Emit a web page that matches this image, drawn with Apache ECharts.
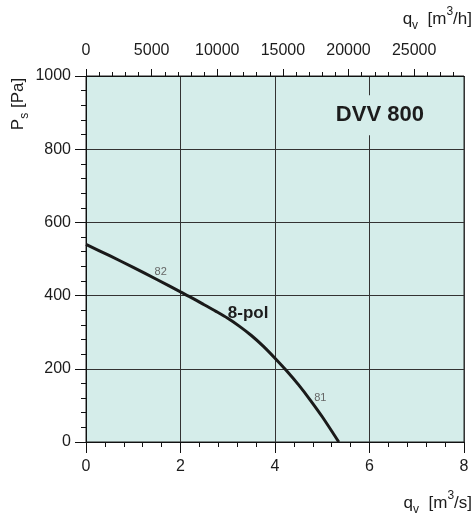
<!DOCTYPE html>
<html>
<head>
<meta charset="utf-8">
<script src="https://cdn.jsdelivr.net/npm/echarts@6/dist/echarts.min.js"></script>
<style>
html,body{margin:0;padding:0;background:#fff;}
#c{width:476px;height:519px;}
</style>
</head>
<body>
<div id="c"></div>
<script>
// ---- data ----
const qvM3s = [0, 0.5, 1, 1.5, 2, 2.25, 2.5, 2.75, 3, 3.25, 3.5, 3.75, 4, 4.25, 4.5, 4.75, 5, 5.35];
const psPa  = [540, 509, 477, 444, 410, 393, 375, 357, 338, 316, 291, 262, 229, 194, 156, 114, 69, 0];
const bottomTicks = [0, 2, 4, 6, 8];
const leftTicks = [0, 200, 400, 600, 800, 1000];
const topTickLabels = [0, 5000, 10000, 15000, 20000, 25000];
const topMinorTicks = [1000,2000,3000,4000,6000,7000,8000,9000,11000,12000,13000,14000,16000,17000,18000,19000,21000,22000,23000,24000,26000,27000,28000];
const modelName = 'DVV 800';
const curveName = '8-pol';
const curveNamePos = [3.43, 352];
const modelNamePos = [6.22, 893];
const effLabels = ['82', '81'];
const effPos = [[1.58, 464], [4.96, 119]];

const FONT = '"Liberation Sans", Arial, sans-serif';
const TXT = '#1c1c1c';
const BG = '#d5edea';
const chart = echarts.init(document.getElementById('c'));

const qvMaxH = 8 * 3600;
const plain = v => String(v);

function richName(main, sub, unit, sup, tail){
  return '{a|' + main + '}{s|' + sub + '}{a|  [' + unit + '}{p|' + sup + '}{a|' + tail + ']}';
}
const richStyles = {
  a: {fontSize: 17, fontFamily: FONT, fill: TXT, color: TXT, lineHeight: 26},
  s: {fontSize: 12, fontFamily: FONT, fill: TXT, color: TXT, lineHeight: 12, verticalAlign: 'bottom'},
  p: {fontSize: 12, fontFamily: FONT, fill: TXT, color: TXT, lineHeight: 12, verticalAlign: 'top'}
};

function annot(pos, text, extra){
  return {value: pos,
    itemStyle: {opacity: 1},
    label: Object.assign({show: true, position: 'inside', formatter: text, fontFamily: FONT, opacity: 1}, extra)};
}

chart.setOption({
  animation: false,
  grid: {left: 86, right: 12, top: 76, bottom: 77, show: true,
         backgroundColor: BG, borderColor: '#222', borderWidth: 1},
  xAxis: [
    {type: 'value', position: 'bottom', min: 0, max: 8, interval: 2,
     axisLine: {lineStyle: {color: '#111', width: 1}},
     axisTick: {show: true, inside: false, length: 11, lineStyle: {color: '#111'}},
     minorTick: {show: true, splitNumber: 5, length: 5, lineStyle: {color: '#111'}},
     splitLine: {show: true, lineStyle: {color: '#333', width: 1}},
     axisLabel: {customValues: bottomTicks, formatter: plain, margin: 17, fontSize: 16, fontFamily: FONT, color: TXT}},
    {type: 'value', position: 'top', min: 0, max: qvMaxH,
     axisLine: {show: true, lineStyle: {color: '#111'}},
     axisTick: {show: true, inside: false, length: 7, customValues: topTickLabels, lineStyle: {color: '#111'}},
     splitLine: {show: false},
     axisLabel: {customValues: topTickLabels, formatter: plain, margin: 17, fontSize: 16, fontFamily: FONT, color: TXT}},
    {type: 'value', position: 'top', min: 0, max: qvMaxH,
     axisLine: {show: false},
     axisTick: {show: true, inside: false, length: 4, customValues: topMinorTicks, lineStyle: {color: '#111'}},
     splitLine: {show: false},
     axisLabel: {show: false}}
  ],
  yAxis: {type: 'value', min: 0, max: 1000, interval: 200,
     axisLine: {show: true, lineStyle: {color: '#111'}},
     axisTick: {show: true, inside: false, length: 11, lineStyle: {color: '#111'}},
     minorTick: {show: true, splitNumber: 5, length: 5, lineStyle: {color: '#111'}},
     splitLine: {show: true, lineStyle: {color: '#333', width: 1}},
     axisLabel: {customValues: leftTicks, formatter: plain, margin: 15, fontSize: 16, fontFamily: FONT, color: TXT}},
  series: [
    {type: 'line', xAxisIndex: 0, data: qvM3s.map((x, i) => [x, psPa[i]]),
     smooth: 0.3, symbol: 'none', lineStyle: {color: '#1a1a1a', width: 3}, z: 3},
    {type: 'scatter', xAxisIndex: 0, symbolSize: 0, z: 5, silent: true,
     itemStyle: {opacity: 1},
     data: [
       annot(modelNamePos, modelName, {fontSize: 22, fontWeight: 'bold', color: TXT, lineHeight: 22,
         backgroundColor: BG, padding: [16, 3, 2, 3]}),
       annot(curveNamePos, curveName, {fontSize: 17, fontWeight: 'bold', color: TXT}),
       annot(effPos[0], effLabels[0], {fontSize: 11, color: '#666'}),
       annot(effPos[1], effLabels[1], {fontSize: 11, color: '#666'})
     ]}
  ],
  graphic: [
    {type: 'text', right: 4, top: 6, style: {text: richName('q', 'v', 'm', '3', '/h'), rich: richStyles, fill: TXT}},
    {type: 'text', right: 4, top: 490, style: {text: richName('q', 'v', 'm', '3', '/s'), rich: richStyles, fill: TXT}},
    {type: 'text', x: 18, y: 104, rotation: Math.PI / 2,
     style: {text: '{a|P}{s|s}{a| [Pa]}', rich: richStyles, fill: TXT, align: 'center', verticalAlign: 'middle'}}
  ]
});
</script>
</body>
</html>
